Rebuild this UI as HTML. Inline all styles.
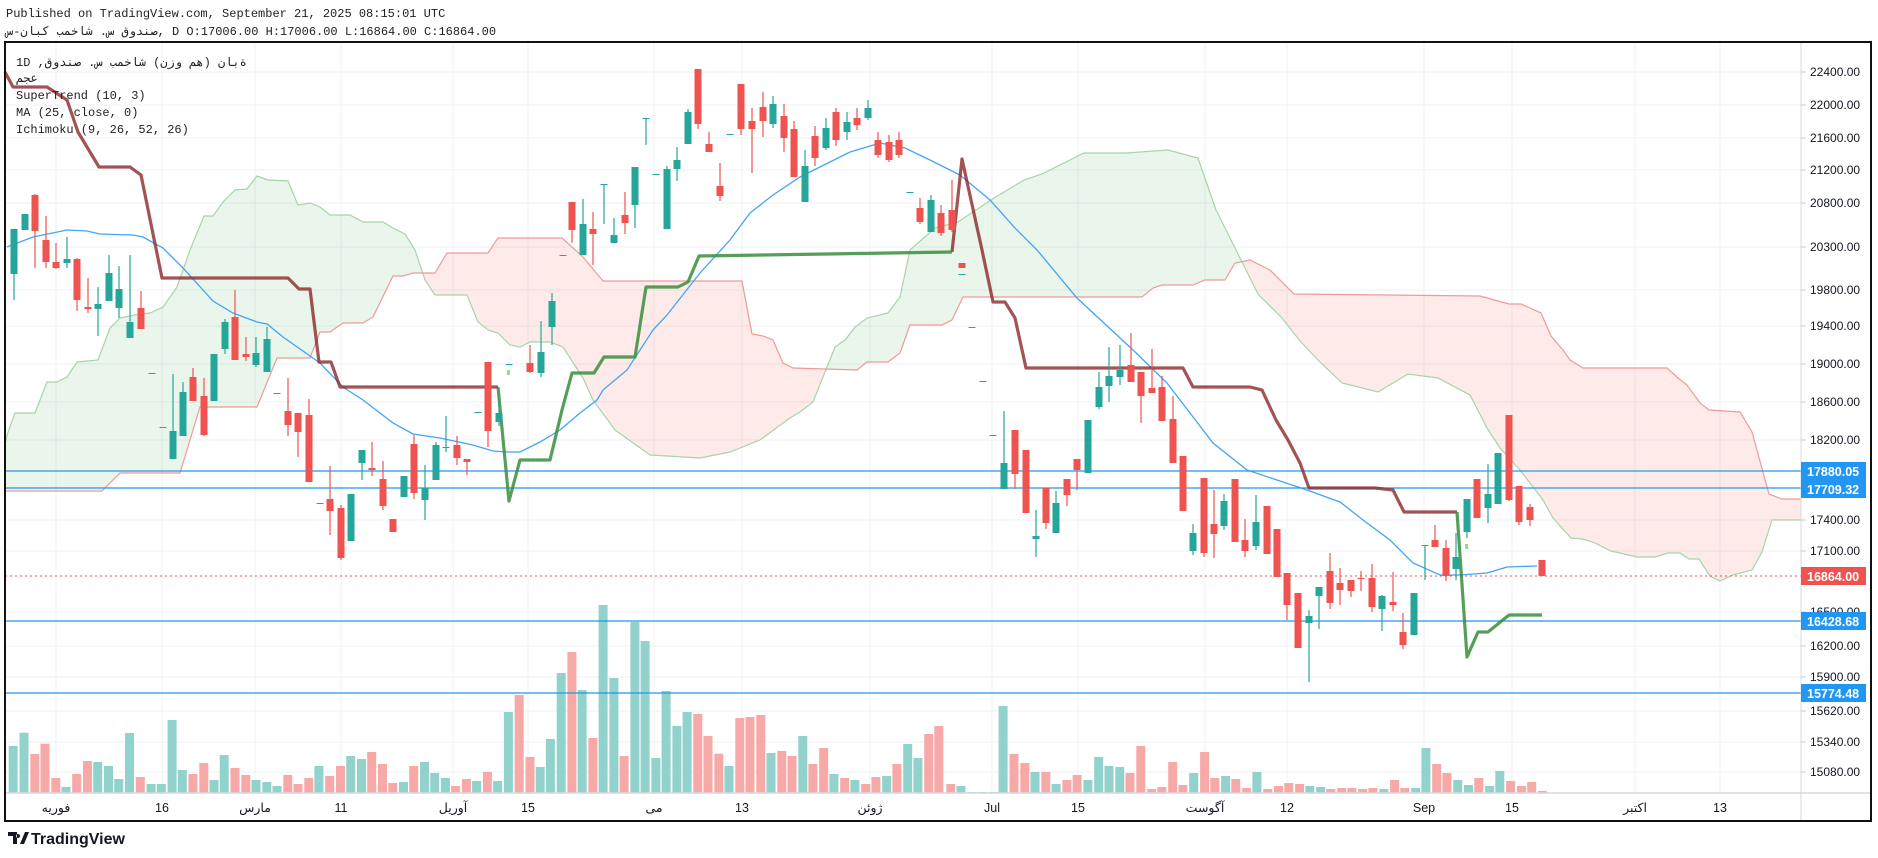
<!DOCTYPE html>
<html><head><meta charset="utf-8">
<style>
html,body{margin:0;padding:0;background:#fff;}
body{width:1878px;height:858px;overflow:hidden;position:relative;font-family:"Liberation Sans","DejaVu Sans",sans-serif;}
.hdr{position:absolute;left:6px;font:12px "Liberation Mono","DejaVu Sans Mono",monospace;color:#222;white-space:nowrap;unicode-bidi:bidi-override;direction:ltr;}
svg{position:absolute;left:0;top:0;}
</style></head>
<body>
<div class="hdr" style="top:7px">Published on TradingView.com, September 21, 2025 08:15:01 UTC</div>
<div class="hdr" style="top:24px">س-نابک بمخاش .س قودنص, D O:17006.00 H:17006.00 L:16864.00 C:16864.00</div>
<svg id="s" width="1878" height="858" xmlns="http://www.w3.org/2000/svg"></svg>
<script>
var o=[];
function L(x1,y1,x2,y2,c,w,extra){o.push('<line x1="'+x1+'" y1="'+y1+'" x2="'+x2+'" y2="'+y2+'" stroke="'+c+'" stroke-width="'+w+'" '+(extra||'')+'/>');}
function R(x,y,w,h,c){o.push('<rect x="'+x+'" y="'+y+'" width="'+w+'" height="'+Math.max(h,1)+'" fill="'+c+'"/>');}
function T(x,y,t,st){o.push('<text x="'+x+'" y="'+y+'" '+st+'>'+t+'</text>');}
function P(pts){return pts.map(function(p){return p[0]+','+p[1];}).join(' ');}
var X0=5,X1=1801,Y0=42,Y1=821;
var ticks=[[72,'22400.00'],[105,'22000.00'],[138,'21600.00'],[170,'21200.00'],[203,'20800.00'],[247,'20300.00'],[290,'19800.00'],[326,'19400.00'],[364,'19000.00'],[402,'18600.00'],[440,'18200.00'],[520,'17400.00'],[551,'17100.00'],[612,'16500.00'],[646,'16200.00'],[677,'15900.00'],[711,'15620.00'],[742,'15340.00'],[772,'15080.00']];
ticks.forEach(function(t){L(X0,t[0],X1,t[0],'#eef0f4',1);});
var vx=[56,162,255,341,453,528,654,742,870,992,1078,1205,1287,1424,1512,1635,1720];
vx.forEach(function(x){L(x,Y0,x,793,'#eef0f4',1);});
var A=[[5,445],[7,435],[15,413],[35,413],[47,382],[57,382],[67,377],[77,362],[98,360],[110,328],[120,318],[140,314],[150,313],[163,307],[177,287],[190,250],[204,216],[213,216],[223,202],[235,190],[247,189],[257,176],[268,180],[288,181],[298,205],[310,203],[320,207],[330,215],[350,215],[363,222],[383,222],[393,228],[405,234],[415,250],[425,280],[435,295],[467,295],[478,322],[488,330],[498,333],[510,345],[520,347],[530,342],[550,342],[563,347],[583,378],[593,400],[615,430],[650,455],[700,458],[730,452],[760,440],[790,418],[800,412],[813,402],[835,347],[845,340],[855,327],[867,318],[888,313],[900,297],[910,250],[935,228],[958,222],[994,198],[1024,180],[1042,174],[1084,153],[1126,153],[1168,150],[1198,158],[1216,210],[1240,258],[1258,294],[1282,318],[1300,341],[1318,360],[1342,383],[1378,392],[1408,374],[1438,378],[1470,395],[1487,428],[1500,448],[1520,470],[1543,500],[1553,518],[1571,538],[1583,539],[1595,543],[1611,551],[1637,557],[1655,557],[1668,553],[1680,553],[1689,559],[1699,559],[1710,576],[1720,581],[1733,575],[1752,570],[1762,552],[1772,520],[1801,520]];
var B=[[5,491],[102,491],[120,473],[180,473],[200,407],[257,407],[277,358],[310,358],[320,332],[330,332],[343,323],[363,323],[373,317],[393,276],[403,276],[413,273],[435,273],[447,253],[488,253],[498,238],[562,238],[583,257],[603,281],[742,281],[752,334],[763,336],[773,340],[783,363],[793,368],[857,370],[867,362],[888,362],[900,353],[910,325],[942,325],[952,320],[963,297],[1142,297],[1153,288],[1162,285],[1193,285],[1205,280],[1225,280],[1235,263],[1250,260],[1270,270],[1294,294],[1480,296],[1509,304],[1521,304],[1541,313],[1551,336],[1563,350],[1570,360],[1583,368],[1667,368],[1678,378],[1687,385],[1700,403],[1709,410],[1740,412],[1752,432],[1769,494],[1782,499],[1801,499]];
var belowA=A.concat([[1801,Y1],[5,Y1]]),aboveA=A.concat([[1801,Y0],[5,Y0]]);
var belowB=B.concat([[1801,Y1],[5,Y1]]),aboveB=B.concat([[1801,Y0],[5,Y0]]);
o.push('<defs><clipPath id="ba"><polygon points="'+P(belowA)+'"/></clipPath><clipPath id="aa"><polygon points="'+P(aboveA)+'"/></clipPath></defs>');
o.push('<polygon points="'+P(aboveB)+'" fill="rgba(67,160,71,0.11)" clip-path="url(#ba)"/>');
o.push('<polygon points="'+P(belowB)+'" fill="rgba(244,67,54,0.11)" clip-path="url(#aa)"/>');
o.push('<polyline points="'+P(A)+'" fill="none" stroke="#a5d6a7" stroke-width="1.2"/>');
o.push('<polyline points="'+P(B)+'" fill="none" stroke="#ef9a9a" stroke-width="1.2"/>');
var G='#92d2cc',Rd='#f7a9a7';
var v9=[[22,168,'g'],[40,128,'g'],[58,192,'r'],[75,161,'r'],[93,264,'r'],[110,291,'g'],[128,252,'r'],[146,213,'r'],[163,216,'g'],[181,228,'g'],[198,267,'g'],[216,129,'g'],[234,261,'r'],[252,282,'g'],[269,282,'g'],[287,90,'g'],[304,240,'g'],[322,252,'r'],[340,219,'r'],[357,270,'g'],[374,195,'g'],[392,234,'r'],[410,255,'r'],[427,270,'g'],[445,276,'g'],[462,288,'g'],[480,255,'r'],[497,282,'r'],[515,264,'r'],[532,228,'g'],[550,258,'r'],[568,228,'r'],[585,198,'g'],[603,207,'g'],[620,186,'r'],[638,222,'r'],[655,279,'r'],[673,276,'g'],[690,228,'r'],[708,216,'g'],[725,249,'g'],[743,264,'g'],[760,288,'r'],[778,267,'r'],[795,273,'g'],[813,246,'r'],[830,273,'g'],[848,66,'g'],[866,15,'r'],[884,201,'r'],[901,231,'g'],[918,147,'g'],[936,-51,'g'],[954,-114,'r'],[971,0,'g'],[989,144,'r'],[1006,-255,'g'],[1024,-36,'g'],[1041,198,'r'],[1059,-204,'g'],[1076,-147,'g'],[1094,204,'g'],[1111,3,'g'],[1129,108,'g'],[1146,66,'g'],[1164,72,'r'],[1181,138,'r'],[1199,191,'r'],[1216,228,'g'],[1234,84,'r'],[1251,81,'r'],[1269,75,'r'],[1286,189,'g'],[1304,183,'r'],[1321,198,'r'],[1339,138,'g'],[1356,222,'r'],[1374,174,'r'],[1391,252,'g'],[1409,264,'r'],[1426,270,'g'],[1444,282,'r'],[1461,261,'r'],[1479,258,'g'],[1496,222,'r'],[1514,162,'g'],[1531,204,'g'],[1549,132,'r'],[1566,108,'r']];
v9.forEach(function(b){var x=b[0]/1.668,t=690+b[1]/3;R((x-4.5).toFixed(1),t.toFixed(1),9,793-t,b[2]=='g'?G:Rd);});
var v10=[[18,282,'r'],[35,288,'g'],[53,306,'g'],[70,306,'g'],[88,306,'g'],[105,48,'g'],[123,192,'r'],[141,219,'r'],[158,246,'g'],[176,246,'r'],[193,282,'g'],[211,270,'r'],[228,255,'r'],[246,270,'g'],[264,201,'g'],[281,228,'g'],[299,231,'g'],[316,249,'r'],[334,168,'r'],[352,297,'r'],[369,291,'r'],[387,216,'r'],[404,285,'r'],[422,249,'g'],[440,186,'r'],[457,264,'r'],[475,258,'g'],[492,267,'r'],[510,294,'r'],[527,246,'g'],[545,297,'r'],[563,288,'r'],[580,279,'r'],[598,282,'r'],[615,288,'g'],[633,291,'g'],[650,297,'r'],[668,294,'r'],[685,294,'r'],[703,297,'r'],[720,294,'r'],[738,297,'g'],[756,270,'r'],[773,294,'r'],[791,294,'g'],[808,174,'g'],[826,222,'r'],[843,249,'r'],[861,270,'g'],[879,285,'g'],[896,264,'r'],[914,288,'g'],[931,243,'g'],[949,273,'r'],[967,288,'r'],[984,276,'r'],[1002,303,'r']];
v10.forEach(function(b){var x=940+b[0]*0.6013,t=690+b[1]/3;R((x-4.5).toFixed(1),t.toFixed(1),9,793-t,b[2]=='g'?G:Rd);});
var MA=[[7,247],[33,237],[67,230],[87,231],[100,234],[133,235],[143,237],[163,248],[183,268],[213,301],[233,313],[257,322],[267,324],[283,337],[320,363],[343,387],[363,400],[393,423],[413,434],[440,438],[473,445],[493,451],[507,452],[520,452],[540,442],[560,430],[580,413],[597,400],[603,390],[627,370],[653,330],[667,315],[700,273],[730,240],[750,213],[773,195],[800,177],[820,167],[850,152],[880,143],[905,148],[930,160],[960,175],[990,200],[1015,228],[1037,250],[1077,298],[1133,350],[1167,383],[1213,443],[1247,470],[1307,490],[1340,502],[1363,520],[1390,540],[1413,563],[1440,575],[1460,575],[1487,573],[1507,567],[1537,566]];
o.push('<polyline points="'+P(MA)+'" fill="none" stroke="#42a5f5" stroke-width="1.3"/>');
[471,488,621,693].forEach(function(y){L(X0,y,X1,y,'#2196f3',1.2);});
L(X0,576,X1,576,'#ef5350',1,'stroke-dasharray="2,3"');
var br='rgba(139,40,40,0.8)',gr='rgba(56,142,60,0.85)';
var S1=[[5,72],[13,87],[47,87],[67,100],[78,132],[99,167],[130,167],[141,175],[162,278],[288,278],[299,289],[310,289],[319,362],[331,362],[340,387],[498,387]];
var S2=[[498,387],[509,501],[520,460],[550,460],[562,410],[572,373],[594,373],[604,357],[635,357],[646,287],[678,287],[688,282],[699,256],[952,252]];
var S3=[[952,252],[962,159],[982,250],[993,302],[1005,302],[1015,318],[1026,368],[1183,368],[1193,387],[1250,387],[1262,390],[1276,420],[1288,440],[1300,463],[1309,488],[1375,488],[1393,490],[1404,512],[1457,512]];
var S4=[[1457,512],[1467,657],[1478,632],[1488,632],[1509,615],[1542,615]];
[S1,S3].forEach(function(s){o.push('<polyline points="'+P(s)+'" fill="none" stroke="'+br+'" stroke-width="3.2" stroke-linejoin="round"/>');});
[S2,S4].forEach(function(s){o.push('<polyline points="'+P(s)+'" fill="none" stroke="'+gr+'" stroke-width="3.2" stroke-linejoin="round"/>');});
var C=[[14,229,274,229,300,'g'],[25,214,230,214,230,'g'],[35,195,231,194,268,'r'],[46,240,262,216,268,'r'],[56,262,268,243,269,'r'],[67,259,263,237,268,'g'],[77,259,300,258,311,'r'],[88,307,309,278,313,'r'],[98,304,309,287,336,'g'],[109,273,301,255,301,'g'],[119,289,308,266,318,'g'],[130,322,338,255,338,'g'],[141,308,329,291,329,'r'],[152,373,374,373,374,'g'],[163,427,428,427,428,'g'],[173,431,459,374,459,'g'],[183,392,436,382,436,'g'],[193,377,401,368,401,'r'],[204,396,435,378,436,'r'],[214,354,401,354,401,'g'],[225,322,349,319,354,'g'],[235,317,360,290,360,'r'],[246,354,357,337,361,'r'],[256,353,365,337,367,'g'],[267,339,372,327,372,'g'],[277,393,394,393,394,'g'],[288,411,425,378,436,'r'],[298,413,432,413,457,'r'],[309,415,482,399,482,'r'],[320,503,504,503,504,'g'],[330,499,511,466,535,'r'],[341,508,558,505,560,'r'],[351,494,541,494,541,'g'],[362,450,463,450,480,'g'],[372,468,470,442,476,'r'],[383,479,506,461,510,'r'],[393,519,532,519,532,'r'],[404,476,497,476,497,'g'],[414,444,493,435,499,'r'],[425,488,500,465,520,'g'],[436,445,480,442,480,'g'],[446,447,448,416,452,'g'],[457,445,458,436,465,'r'],[467,459,462,459,475,'r'],[478,412,413,412,413,'g'],[488,362,431,362,447,'r'],[499,413,422,400,426,'g'],[509,364,365,364,365,'g'],[530,363,372,345,373,'r'],[541,352,373,321,377,'g'],[552,301,327,293,345,'g'],[563,255,256,255,256,'g'],[572,202,230,202,243,'r'],[583,224,255,199,255,'g'],[593,229,234,212,265,'r'],[604,184,185,184,224,'g'],[614,235,243,218,243,'g'],[625,215,223,192,234,'r'],[635,167,205,167,228,'g'],[646,118,119,118,145,'g'],[656,174,175,174,175,'g'],[667,169,229,166,229,'g'],[677,160,169,147,181,'g'],[688,112,144,109,144,'g'],[698,69,124,69,129,'r'],[709,144,152,132,152,'r'],[720,186,196,163,201,'r'],[730,134,135,134,135,'g'],[741,84,129,84,135,'r'],[752,121,129,108,173,'r'],[763,107,121,92,137,'r'],[773,104,124,96,128,'g'],[784,116,138,104,152,'r'],[794,129,177,121,177,'r'],[805,166,202,150,202,'g'],[815,136,158,126,166,'r'],[826,128,148,118,150,'g'],[836,112,140,108,146,'r'],[847,122,132,112,140,'g'],[857,118,125,108,130,'r'],[868,108,118,100,120,'g'],[878,140,155,132,158,'r'],[889,142,160,135,162,'r'],[899,140,155,132,158,'r'],[910,192,193,192,193,'g'],[920,208,222,198,224,'r'],[931,200,232,195,232,'g'],[941,213,233,205,236,'r'],[952,210,230,180,232,'r'],[962,263,268,263,268,'r'],[962,274,275,274,275,'g'],[972,327,328,327,328,'g'],[983,381,382,381,382,'g'],[993,435,436,435,436,'g'],[1004,463,489,411,489,'g'],[1015,430,474,430,489,'r'],[1026,450,513,450,513,'r'],[1036,536,539,510,557,'g'],[1046,488,523,488,529,'r'],[1056,503,533,491,533,'g'],[1067,479,495,479,506,'r'],[1077,459,470,459,490,'r'],[1088,420,473,420,473,'g'],[1099,387,407,372,409,'g'],[1109,376,386,347,402,'g'],[1120,370,377,345,385,'g'],[1131,365,382,333,382,'r'],[1141,372,396,372,423,'r'],[1152,388,393,349,393,'r'],[1162,387,421,376,421,'r'],[1173,419,463,396,463,'r'],[1183,456,511,456,511,'r'],[1193,533,551,524,555,'g'],[1204,478,553,478,557,'r'],[1214,524,534,490,558,'r'],[1224,501,526,494,530,'g'],[1235,479,542,479,542,'r'],[1245,540,551,519,557,'r'],[1256,522,546,495,550,'g'],[1267,506,554,506,554,'r'],[1277,529,577,529,577,'r'],[1287,573,605,573,620,'r'],[1298,593,648,593,648,'r'],[1309,616,623,610,682,'g'],[1319,587,596,587,629,'g'],[1330,571,603,553,609,'r'],[1340,583,590,568,605,'r'],[1351,580,591,580,597,'r'],[1361,578,579,571,591,'r'],[1372,578,607,564,612,'r'],[1382,596,609,595,631,'g'],[1393,602,605,572,611,'r'],[1403,632,645,613,649,'r'],[1414,593,635,593,635,'g'],[1425,545,546,545,580,'g'],[1435,540,547,525,547,'r'],[1446,548,576,540,581,'r'],[1456,557,569,533,580,'g'],[1467,499,532,499,538,'g'],[1477,479,518,479,518,'r'],[1488,494,508,464,523,'g'],[1498,453,504,453,504,'g'],[1509,415,500,415,501,'r'],[1519,486,522,486,525,'r'],[1530,507,520,504,526,'r'],[1542,560,576,560,576,'r']];
C.forEach(function(c){var col=c[5]=='g'?'#26a69a':'#ef5350';L(c[0],c[3],c[0],c[4],col,1.2);R(c[0]-3.5,c[1],7,c[2]-c[1],col);});
R(507,370,3,5,'#8be08b');R(1465,544,3,5,'#8be08b');
L(X1,Y0,X1,Y1,'#d6d8de',1);
L(X0,793,1871,793,'#d6d8de',1.5);
o.push('<rect x="5" y="42" width="1866" height="779" fill="none" stroke="#111" stroke-width="2"/>');
var ax='font-family="Liberation Sans,DejaVu Sans,sans-serif" font-size="12" fill="#131722"';
ticks.forEach(function(t){L(X1,t[0],X1+5,t[0],'#c8cad0',1);T(1810,t[0]+4,t[1],ax);});
function box(y,txt,c){R(X1,y-9,65,18,c);T(1807,y+5,txt,'font-family="Liberation Sans,sans-serif" font-size="12.5" font-weight="bold" fill="#fff"');}
box(471,'17880.05','#2196f3');box(489,'17709.32','#2196f3');box(576,'16864.00','#ef5350');box(621,'16428.68','#2196f3');box(693,'15774.48','#2196f3');
var xl=[[56,'فوریه'],[162,'16'],[255,'مارس'],[341,'11'],[453,'آوریل'],[528,'15'],[654,'می'],[742,'13'],[870,'ژوئن'],[992,'Jul'],[1078,'15'],[1205,'آگوست'],[1287,'12'],[1424,'Sep'],[1512,'15'],[1635,'اکتبر'],[1720,'13']];
xl.forEach(function(l){T(l[0],812,l[1],'text-anchor="middle" font-family="Liberation Sans,DejaVu Sans,sans-serif" font-size="12.5" fill="#131722"');});
var lg='font-family="Liberation Mono,DejaVu Sans Mono,monospace" font-size="12" fill="#222" direction="ltr" unicode-bidi="bidi-override"';
T(16,66,'1D ,قودنص .س بمخاش (نزو مه) نابة',lg);
T(16,82,'مجع',lg);
T(16,99,'SuperTrend (10, 3)',lg);
T(16,116,'MA (25, close, 0)',lg);
T(16,133,'Ichimoku (9, 26, 52, 26)',lg);
o.push('<path d="M8 832 h9 v12 h-4 v-8 h-5z M20 844 l5 -12 h4 l-5 12z M18 834 a2 2 0 1 0 0.1 0z" fill="#131722"/>');
T(31,844,'TradingView','font-family="Liberation Sans,sans-serif" font-size="16" font-weight="bold" fill="#131722"');
document.getElementById('s').innerHTML=o.join('');
</script>
</body></html>
